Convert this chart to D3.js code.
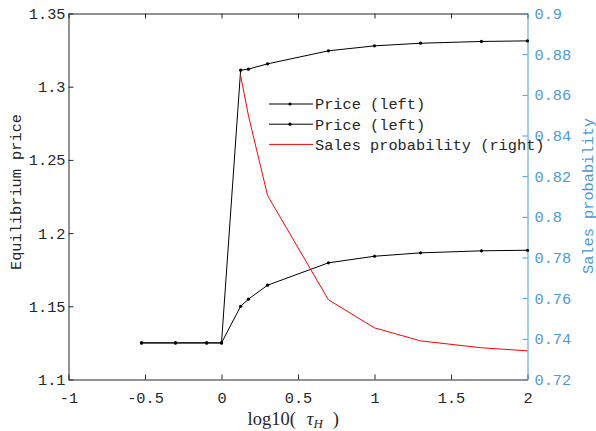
<!DOCTYPE html>
<html>
<head>
<meta charset="utf-8">
<script src="https://cdn.jsdelivr.net/npm/d3@7"></script>
<style>
  body { margin: 0; background: #fff; }
  svg { display: block; }
  .tick text { font-family: "Liberation Mono", monospace; font-size: 15.3px; }
</style>
</head>
<body>
<div id="chart"></div>
<script>
// values
var logTau = [-0.523, -0.301, -0.097, 0, 0.125, 0.176, 0.301, 0.699, 1, 1.301, 1.699, 2];
var priceHigh = [1.125, 1.125, 1.125, 1.125, 1.3113, 1.312, 1.3156, 1.3245, 1.3279, 1.3297, 1.3309, 1.3313];
var priceLow = [1.125, 1.125, 1.125, 1.125, 1.150, 1.1549, 1.1644, 1.1797, 1.1842, 1.1865, 1.1879, 1.1883];
var salesProb = [null, null, null, null, 0.8695, 0.8498, 0.8105, 0.7592, 0.7454, 0.739, 0.7356, 0.7341];

var xTicks = [-1, -0.5, 0, 0.5, 1, 1.5, 2];
var leftTicks = [1.1, 1.15, 1.2, 1.25, 1.3, 1.35];
var rightTicks = [0.72, 0.74, 0.76, 0.78, 0.8, 0.82, 0.84, 0.86, 0.88, 0.9];
var legendLabels = ['Price (left)', 'Price (left)', 'Sales probability (right)'];

var W = 596, H = 431;
var box = {left: 68.5, right: 527.5, top: 13.5, bottom: 379.5};
var axisCol = '#262626', blue = '#4d99d4';

var svg = d3.select('#chart').append('svg')
  .attr('width', W)
  .attr('height', H);

var x = d3.scaleLinear().domain([-1, 2]).range([box.left, box.right]);
var yL = d3.scaleLinear().domain([1.1, 1.35]).range([box.bottom, box.top]);
var yR = d3.scaleLinear().domain([0.72, 0.9]).range([box.bottom, box.top]);

var fmt = function(d) { return String(+d.toFixed(2)); };

// axes, ticks pointing inward
var gx = svg.append('g')
  .attr('transform', 'translate(0,' + box.bottom + ')')
  .call(d3.axisBottom(x).tickValues(xTicks).tickFormat(fmt)
    .tickSize(-5).tickSizeOuter(0).tickPadding(13));
var gTop = svg.append('g')
  .attr('transform', 'translate(0,' + box.top + ')')
  .call(d3.axisTop(x).tickValues(xTicks).tickFormat('')
    .tickSize(-5).tickSizeOuter(0));
var gl = svg.append('g')
  .attr('transform', 'translate(' + box.left + ',0)')
  .call(d3.axisLeft(yL).tickValues(leftTicks).tickFormat(fmt)
    .tickSize(-5).tickSizeOuter(0).tickPadding(3));
var gr = svg.append('g')
  .attr('transform', 'translate(' + box.right + ',0)')
  .call(d3.axisRight(yR).tickValues(rightTicks).tickFormat(fmt)
    .tickSize(-5).tickSizeOuter(0).tickPadding(7));

[gx, gTop, gl].forEach(function(g) {
  g.selectAll('path, line').attr('stroke', axisCol);
  g.selectAll('text').attr('fill', axisCol);
});
gr.selectAll('path, line').attr('stroke', blue);
gr.selectAll('text').attr('fill', blue);

// axis labels
svg.append('text')
  .attr('transform', 'translate(16,192) rotate(-90)')
  .attr('text-anchor', 'middle')
  .attr('dy', '0.35em')
  .attr('fill', axisCol)
  .style('font-family', '"Liberation Mono", monospace')
  .style('font-size', '15.3px')
  .text('Equilibrium price');

svg.append('text')
  .attr('transform', 'translate(588,196) rotate(-90)')
  .attr('text-anchor', 'middle')
  .attr('dy', '0.35em')
  .attr('fill', blue)
  .style('font-family', '"Liberation Mono", monospace')
  .style('font-size', '15.3px')
  .text('Sales probability');

var xl = svg.append('text')
  .attr('x', 247.5)
  .attr('y', 425)
  .attr('fill', axisCol)
  .style('font-family', '"Liberation Serif", serif')
  .style('font-size', '18.5px');
xl.append('tspan').text('log10(');
xl.append('tspan').attr('dx', 11).style('font-style', 'italic').text('τ');
xl.append('tspan').attr('dy', 3).style('font-style', 'italic').style('font-size', '13px').text('H');
xl.append('tspan').attr('dx', 10).attr('dy', -3).text(')');

// series
var idx = d3.range(logTau.length);
var lineL = function(vals) {
  return d3.line()
    .defined(function(i) { return vals[i] !== null; })
    .x(function(i) { return x(logTau[i]); })
    .y(function(i) { return yL(vals[i]); })(idx);
};
var lineR = d3.line()
  .defined(function(i) { return salesProb[i] !== null; })
  .x(function(i) { return x(logTau[i]); })
  .y(function(i) { return yR(salesProb[i]); });

[priceHigh, priceLow].forEach(function(vals) {
  svg.append('path')
    .attr('d', lineL(vals))
    .attr('fill', 'none')
    .attr('stroke', '#000')
    .attr('stroke-width', 1);
  svg.selectAll(null).data(idx).enter()
    .append('circle')
      .attr('cx', function(i) { return x(logTau[i]); })
      .attr('cy', function(i) { return yL(vals[i]); })
      .attr('r', 1.6)
      .attr('fill', '#000');
});

svg.append('path')
  .attr('d', lineR(idx))
  .attr('fill', 'none')
  .attr('stroke', '#ff0000')
  .attr('stroke-width', 1);

// legend, no frame
var legend = svg.append('g');
legendLabels.forEach(function(lbl, i) {
  var yy = 104 + i * 20.2;
  var col = i < 2 ? '#000' : '#ff0000';
  legend.append('line')
    .attr('x1', 269).attr('x2', 313)
    .attr('y1', yy).attr('y2', yy)
    .attr('stroke', col)
    .attr('stroke-width', 1);
  if (i < 2) {
    legend.append('circle')
      .attr('cx', 290).attr('cy', yy).attr('r', 1.6).attr('fill', '#000');
  }
  legend.append('text')
    .attr('x', 315)
    .attr('y', yy)
    .attr('dy', '0.35em')
    .attr('fill', axisCol)
    .style('font-family', '"Liberation Mono", monospace')
    .style('font-size', '15.3px')
    .text(lbl);
});
</script>
</body>
</html>
